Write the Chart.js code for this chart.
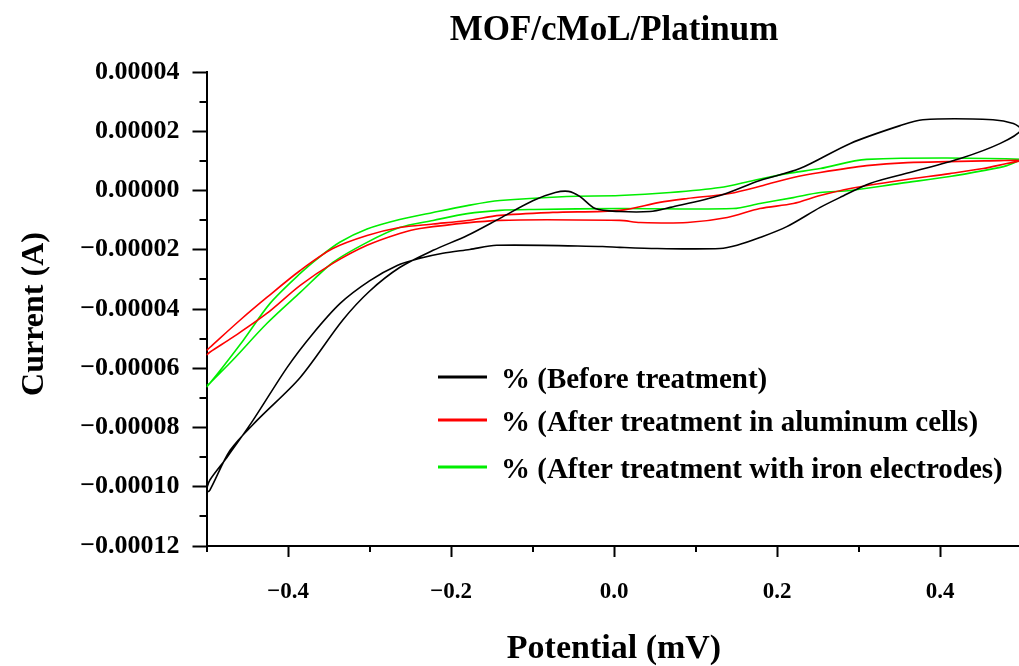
<!DOCTYPE html>
<html>
<head>
<meta charset="utf-8">
<title>MOF/cMoL/Platinum</title>
<script src="https://cdn.jsdelivr.net/npm/chart.js@4.4.1/dist/chart.umd.min.js"></script>
<style>
    html, body {
        margin: 0;
        padding: 0;
        background: #fff;
        overflow: hidden;
    }
    #wrap {
        width: 1025px;
        height: 666px;
    }
</style>
</head>
<body>
<div id="wrap"><canvas id="cvChart" width="1025" height="666"></canvas></div>
<script>
// Cyclic voltammograms (potential in V axis units, current in A)
const seriesNames = [
    '% (Before treatment)',
    '% (After treatment in aluminum cells)',
    '% (After treatment with iron electrodes)'
];

const beforePotential = [-0.5, -0.496, -0.475, -0.443, -0.401, -0.370, -0.336, -0.300, -0.266, -0.238, -0.210, -0.177, -0.144, -0.014, 0.007, 0.053, 0.130, 0.151, 0.179, 0.212, 0.253, 0.277, 0.314, 0.363, 0.425, 0.474, 0.500, 0.490, 0.465, 0.379, 0.351, 0.290, 0.228, 0.179, 0.130, 0.069, 0.044, 0.007, -0.023, -0.042, -0.056, -0.072, -0.099, -0.140, -0.180, -0.222, -0.263, -0.300, -0.333, -0.385, -0.438, -0.471, -0.496, -0.5];
const beforeCurrent = [-10.08e-5, -9.78e-5, -9.01e-5, -7.76e-5, -5.97e-5, -4.85e-5, -3.81e-5, -3.05e-5, -2.53e-5, -2.29e-5, -2.12e-5, -1.99e-5, -1.85e-5, -1.89e-5, -1.92e-5, -1.96e-5, -1.96e-5, -1.85e-5, -1.59e-5, -1.22e-5, -0.57e-5, -0.24e-5, 0.24e-5, 0.61e-5, 1.08e-5, 1.59e-5, 2.05e-5, 2.26e-5, 2.39e-5, 2.39e-5, 2.19e-5, 1.59e-5, 0.74e-5, 0.34e-5, -0.17e-5, -0.57e-5, -0.71e-5, -0.71e-5, -0.61e-5, -0.20e-5, -0.03e-5, -0.07e-5, -0.34e-5, -0.94e-5, -1.52e-5, -2.02e-5, -2.60e-5, -3.40e-5, -4.38e-5, -6.31e-5, -7.76e-5, -8.77e-5, -10.12e-5, -10.19e-5];

const aluminumPotential = [-0.5, -0.496, -0.459, -0.426, -0.385, -0.345, -0.303, -0.263, -0.222, -0.180, -0.140, -0.075, 0.007, 0.056, 0.090, 0.142, 0.183, 0.220, 0.253, 0.310, 0.360, 0.474, 0.500, 0.482, 0.453, 0.412, 0.351, 0.290, 0.253, 0.220, 0.179, 0.139, 0.090, 0.032, 0.007, -0.140, -0.238, -0.263, -0.303, -0.345, -0.385, -0.426, -0.468, -0.496, -0.5];
const aluminumCurrent = [-5.40e-5, -5.30e-5, -4.38e-5, -3.61e-5, -2.70e-5, -1.96e-5, -1.52e-5, -1.25e-5, -1.13e-5, -1.01e-5, -0.84e-5, -0.74e-5, -0.67e-5, -0.40e-5, -0.27e-5, -0.10e-5, 0.17e-5, 0.44e-5, 0.61e-5, 0.84e-5, 0.94e-5, 1.01e-5, 1.01e-5, 0.91e-5, 0.74e-5, 0.57e-5, 0.34e-5, 0.07e-5, -0.17e-5, -0.44e-5, -0.61e-5, -0.91e-5, -1.08e-5, -1.08e-5, -1.01e-5, -1.01e-5, -1.28e-5, -1.45e-5, -1.85e-5, -2.46e-5, -3.20e-5, -4.15e-5, -4.96e-5, -5.46e-5, -5.56e-5];

const ironPotential = [-0.5, -0.496, -0.455, -0.422, -0.385, -0.361, -0.336, -0.303, -0.263, -0.222, -0.180, -0.140, -0.058, 0.007, 0.069, 0.130, 0.171, 0.212, 0.253, 0.310, 0.500, 0.482, 0.453, 0.412, 0.351, 0.290, 0.253, 0.220, 0.179, 0.146, 0.007, -0.099, -0.140, -0.180, -0.222, -0.263, -0.303, -0.345, -0.385, -0.426, -0.468, -0.496, -0.5];
const ironCurrent = [-6.58e-5, -6.51e-5, -5.06e-5, -3.81e-5, -2.80e-5, -2.24e-5, -1.74e-5, -1.30e-5, -0.98e-5, -0.74e-5, -0.51e-5, -0.34e-5, -0.20e-5, -0.17e-5, -0.07e-5, 0.10e-5, 0.34e-5, 0.57e-5, 0.74e-5, 1.05e-5, 1.05e-5, 0.84e-5, 0.67e-5, 0.47e-5, 0.24e-5, 0.00e-5, -0.07e-5, -0.24e-5, -0.44e-5, -0.61e-5, -0.61e-5, -0.64e-5, -0.67e-5, -0.78e-5, -1.01e-5, -1.25e-5, -1.75e-5, -2.43e-5, -3.44e-5, -4.49e-5, -5.73e-5, -6.51e-5, -6.64e-5];

// tick positions: labelled majors, unlabelled minors
const xMajorTicks = [-0.4, -0.2, 0, 0.2, 0.4];
const xMinorTicks = [-0.5, -0.3, -0.1, 0.1, 0.3];
const yMinorTicks = [-0.00011, -0.00009, -0.00007, -0.00005, -0.00003, -0.00001, 0.00001, 0.00003];

const serif = "'Liberation Serif', 'Times New Roman', serif";
const lineColors = ['#000000', '#ff0000', '#00ee00'];

function toPoints(xs, ys) {
    return xs.map((v, i) => ({ x: v, y: ys[i] }));
}

function fmtX(v) {
    if (Math.abs(v) < 1e-9) return '0.0';
    return v < 0 ? '\u2212' + Math.abs(v).toFixed(1) : v.toFixed(1);
}

function fmtY(v) {
    if (Math.abs(v) < 1e-12) return '0.00000';
    return v < 0 ? '\u2212' + Math.abs(v).toFixed(5) : v.toFixed(5);
}

// titles, legend and minor ticks
const decor = {
    id: 'decor',
    afterDraw(chart) {
        const { ctx, chartArea: a, scales } = chart;
        ctx.save();
        ctx.strokeStyle = '#000';
        ctx.lineWidth = 2;
        xMinorTicks.forEach(v => {
            const px = Math.round(scales.x.getPixelForValue(v));
            ctx.beginPath();
            ctx.moveTo(px, a.bottom);
            ctx.lineTo(px, a.bottom + 6);
            ctx.stroke();
        });
        yMinorTicks.forEach(v => {
            const py = Math.round(scales.y.getPixelForValue(v));
            ctx.beginPath();
            ctx.moveTo(a.left - 7, py);
            ctx.lineTo(a.left, py);
            ctx.stroke();
        });

        const cx = (a.left + a.right) / 2;
        ctx.fillStyle = '#000';
        ctx.textAlign = 'center';
        ctx.textBaseline = 'middle';
        ctx.font = 'bold 35px ' + serif;
        ctx.fillText('MOF/cMoL/Platinum', cx, 31);
        ctx.font = 'bold 34px ' + serif;
        ctx.fillText('Potential (mV)', cx, 649);

        ctx.save();
        ctx.translate(35, 314);
        ctx.rotate(-Math.PI / 2);
        ctx.font = 'bold 32px ' + serif;
        ctx.fillText('Current (A)', 0, 0);
        ctx.restore();

        // legend
        const rows = [377, 420, 467];
        ctx.textAlign = 'left';
        ctx.font = 'bold 29px ' + serif;
        seriesNames.forEach((name, i) => {
            ctx.strokeStyle = lineColors[i];
            ctx.lineWidth = 3;
            ctx.beginPath();
            ctx.moveTo(438, rows[i]);
            ctx.lineTo(487, rows[i]);
            ctx.stroke();
            ctx.fillStyle = '#000';
            ctx.fillText(name, 501, rows[i] + 4);
        });
        ctx.restore();
    }
};

const datasets = [
    toPoints(beforePotential, beforeCurrent),
    toPoints(aluminumPotential, aluminumCurrent),
    toPoints(ironPotential, ironCurrent)
].map((pts, i) => ({
    label: seriesNames[i],
    data: pts,
    showLine: true,
    borderColor: lineColors[i],
    backgroundColor: lineColors[i],
    borderWidth: 1.6,
    pointRadius: 0,
    tension: 0.3,
    fill: false
}));

new Chart(document.getElementById('cvChart'), {
    type: 'scatter',
    data: { datasets: datasets },
    options: {
        responsive: false,
        animation: false,
        layout: { padding: { top: 72, right: 3.5, left: 0, bottom: 0 } },
        plugins: {
            legend: { display: false },
            title: { display: false },
            tooltip: { enabled: false }
        },
        scales: {
            x: {
                type: 'linear',
                min: -0.5,
                max: 0.5,
                afterBuildTicks: s => { s.ticks = xMajorTicks.map(v => ({ value: v })); },
                afterFit: s => { s.height = 120; s.paddingRight = 0; },
                border: { color: '#000', width: 2 },
                grid: { drawOnChartArea: false, tickLength: 11, tickWidth: 2, tickColor: '#000' },
                ticks: {
                    padding: 21,
                    maxRotation: 0,
                    autoSkip: false,
                    color: '#000',
                    font: { family: serif, size: 23, weight: 'bold' },
                    callback: v => fmtX(v)
                }
            },
            y: {
                min: -0.00012,
                max: 0.00004,
                afterFit: s => { s.width = 206.5; },
                border: { color: '#000', width: 2 },
                grid: { drawOnChartArea: false, tickLength: 14, tickWidth: 2, tickColor: '#000' },
                ticks: {
                    stepSize: 0.00002,
                    padding: 13,
                    autoSkip: false,
                    color: '#000',
                    font: { family: serif, size: 26, weight: 'bold' },
                    callback: v => fmtY(v)
                }
            }
        }
    },
    plugins: [decor]
});
</script>
</body>
</html>
